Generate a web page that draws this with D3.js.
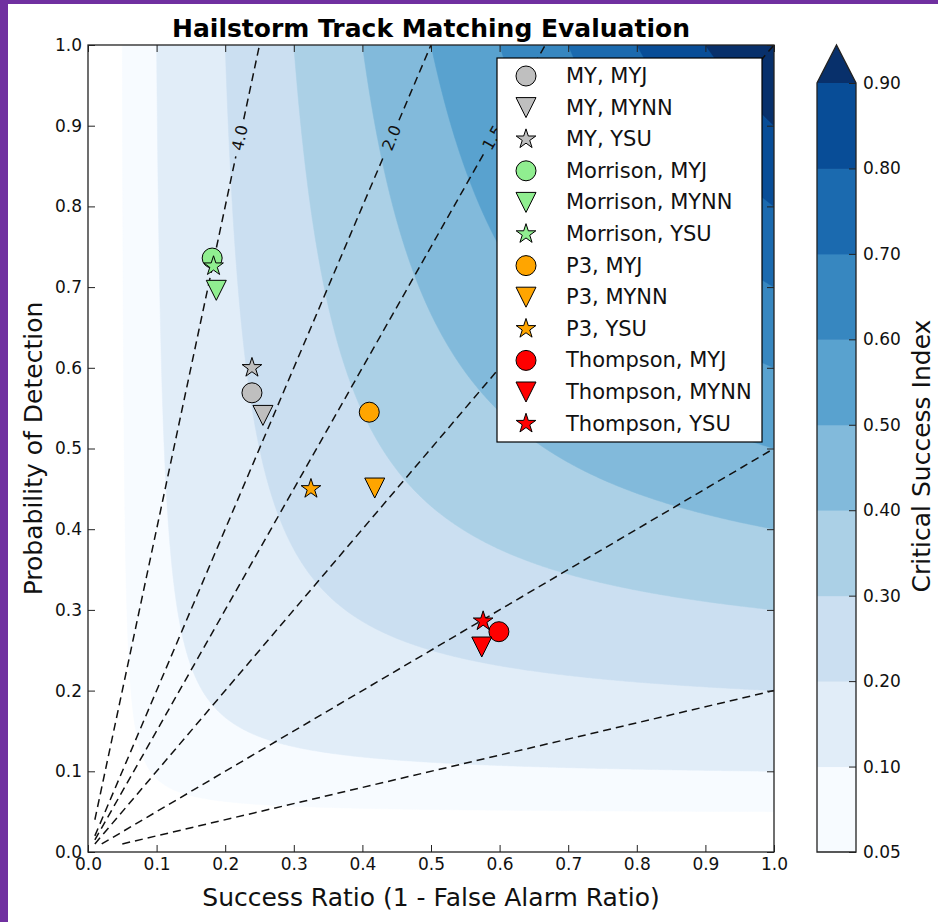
<!DOCTYPE html>
<html>
<head>
<meta charset="utf-8">
<script src="https://cdn.jsdelivr.net/npm/d3@7"></script>
<style>
  body { margin: 0; background: #fff; }
  svg { display: block; font-family: "DejaVu Sans", sans-serif; }
</style>
</head>
<body>
<svg id="chart" width="938" height="922"></svg>
<script>
// CSI contour levels (extend = max) and bias lines
const csiLevels = [0.05, 0.1, 0.2, 0.3, 0.4, 0.5, 0.6, 0.7, 0.8, 0.9];
const biasLevels = [0.2, 0.5, 1.0, 1.5, 2.0, 4.0];
const biasLabelled = [4.0, 2.0, 1.5];
const axisTicks = [0.0, 0.1, 0.2, 0.3, 0.4, 0.5, 0.6, 0.7, 0.8, 0.9, 1.0];

// experiments: microphysics x PBL scheme
const microphysics = ['MY', 'Morrison', 'P3', 'Thompson'];
const pblSchemes = ['MYJ', 'MYNN', 'YSU'];
const successRatio = [
  0.239, 0.255, 0.239,   // MY
  0.181, 0.187, 0.183,   // Morrison
  0.410, 0.418, 0.325,   // P3
  0.599, 0.574, 0.576    // Thompson
];
const probDetection = [
  0.569, 0.541, 0.600,
  0.736, 0.696, 0.726,
  0.545, 0.451, 0.450,
  0.273, 0.254, 0.286
];

const mpColors = { 'MY': '#bfbfbf', 'Morrison': '#90ee90', 'P3': '#ffa500', 'Thompson': '#ff0000' };
const blues = ['#f7fbff', '#deebf7', '#c6dbef', '#9ecae1', '#6baed6', '#4292c6', '#2171b5', '#08519c', '#08306b'];

const svg = d3.select('#chart');

// Purple frame of the slide
svg.append('rect').attr('x', 0).attr('y', 0).attr('width', 8).attr('height', 922).attr('fill', '#7030a0');
svg.append('rect').attr('x', 0).attr('y', 0).attr('width', 938).attr('height', 4).attr('fill', '#7030a0');

// Plot area
const plotL = 88, plotR = 774, plotT = 45, plotB = 852;
const x = d3.scaleLinear().domain([0, 1]).range([plotL, plotR]);
const y = d3.scaleLinear().domain([0, 1]).range([plotB, plotT]);

svg.append('defs').append('clipPath').attr('id', 'plotClip')
  .append('rect')
  .attr('x', plotL).attr('y', plotT)
  .attr('width', plotR - plotL).attr('height', plotB - plotT);

const plot = svg.append('g').attr('clip-path', 'url(#plotClip)');

// Colors of the filled contours (sampled from Blues)
const cmap = d3.piecewise(d3.interpolateRgb, blues);
const bandColors = csiLevels.map((d, i) => cmap(i / (csiLevels.length - 1)));

// CSI grid
const lo = 0.01;
const n = 400, m = 400;
const values = new Float64Array(n * m);
for (let j = 0; j < m; j++) {
  const pod = 1 - (j + 0.5) / m * (1 - lo);
  for (let i = 0; i < n; i++) {
    const sr = lo + (i + 0.5) / n * (1 - lo);
    values[i + j * n] = 1 / (1 / sr + 1 / pod - 1);
  }
}
const contours = d3.contours().size([n, m]).thresholds(csiLevels)(values);
const gridProj = d3.geoTransform({
  point: function(gx, gy) {
    this.stream.point(x(lo + gx / n * (1 - lo)), y(1 - gy / m * (1 - lo)));
  }
});
const gridPath = d3.geoPath(gridProj);

plot.selectAll('path.csi')
  .data(contours)
  .enter()
  .append('path')
  .attr('class', 'csi')
  .attr('d', gridPath)
  .attr('fill', (d, i) => bandColors[i])
  .attr('stroke', (d, i) => bandColors[i])
  .attr('stroke-width', 0.5);

// Bias lines (POD = bias * SR)
const labelPod = 0.885;
biasLevels.forEach(b => {
  const sr0 = Math.max(lo, lo / b);
  const sr1 = Math.min(1, 1 / b);
  const p0 = [x(sr0), y(b * sr0)];
  const p1 = [x(sr1), y(b * sr1)];
  const segs = [];
  if (biasLabelled.includes(b)) {
    const c = [x(labelPod / b), y(labelPod)];
    const dx = p1[0] - p0[0], dy = p1[1] - p0[1];
    const len = Math.hypot(dx, dy);
    const ux = dx / len, uy = dy / len;
    const gap = 19;
    segs.push([p0, [c[0] - ux * gap, c[1] - uy * gap]]);
    segs.push([[c[0] + ux * gap, c[1] + uy * gap], p1]);
    const ang = Math.atan2(dy, dx) * 180 / Math.PI;
    plot.append('text')
      .attr('transform', `translate(${c[0]},${c[1]}) rotate(${ang})`)
      .attr('text-anchor', 'middle')
      .attr('dominant-baseline', 'central')
      .style('font-size', '16px')
      .style('fill', '#111')
      .text(d3.format('.1f')(b));
  } else {
    segs.push([p0, p1]);
  }
  segs.forEach(s => {
    plot.append('line')
      .attr('x1', s[0][0]).attr('y1', s[0][1])
      .attr('x2', s[1][0]).attr('y2', s[1][1])
      .attr('stroke', '#111')
      .attr('stroke-width', 1.5)
      .attr('stroke-dasharray', '8,5');
  });
});

// Marker shapes
const triangleDown = {
  draw(context, size) {
    const h = Math.sqrt(size) / 2;
    context.moveTo(-h, -h);
    context.lineTo(h, -h);
    context.lineTo(0, h);
    context.closePath();
  }
};
const pblSymbols = {
  'MYJ': d3.symbol().type(d3.symbolCircle).size(Math.PI * 100),
  'MYNN': d3.symbol().type(triangleDown).size(400),
  'YSU': d3.symbol().type(d3.symbolStar).size(120)
};

const points = [];
microphysics.forEach((mp, mi) => {
  pblSchemes.forEach((pbl, pi) => {
    const k = mi * pblSchemes.length + pi;
    points.push({ name: `${mp}, ${pbl}`, mp, pbl, sr: successRatio[k], pod: probDetection[k] });
  });
});

svg.selectAll('path.pt')
  .data(points)
  .enter()
  .append('path')
  .attr('class', 'pt')
  .attr('transform', d => `translate(${x(d.sr)},${y(d.pod)})`)
  .attr('d', d => pblSymbols[d.pbl]())
  .attr('fill', d => mpColors[d.mp])
  .attr('stroke', '#000')
  .attr('stroke-width', 1);

// Axes (ticks inside, on all four sides)
const fmt1 = d3.format('.1f');
const xAxis = svg.append('g')
  .attr('transform', `translate(0,${plotB})`)
  .call(d3.axisBottom(x).tickValues(axisTicks).tickFormat(fmt1).tickSizeInner(-7).tickSizeOuter(0).tickPadding(18));
svg.append('g')
  .attr('transform', `translate(${plotL},0)`)
  .call(d3.axisLeft(y).tickValues(axisTicks).tickFormat(fmt1).tickSizeInner(-7).tickSizeOuter(0).tickPadding(6));
svg.append('g')
  .attr('transform', `translate(0,${plotT})`)
  .call(d3.axisTop(x).tickValues(axisTicks).tickFormat('').tickSizeInner(-7).tickSizeOuter(0));
svg.append('g')
  .attr('transform', `translate(${plotR},0)`)
  .call(d3.axisRight(y).tickValues(axisTicks).tickFormat('').tickSizeInner(-7).tickSizeOuter(0));

svg.selectAll('.domain').remove();
svg.selectAll('.tick line').attr('stroke', '#222').attr('stroke-width', 1);
svg.selectAll('.tick text').style('font-size', '17px').style('fill', '#111').style('font-family', '"DejaVu Sans", sans-serif');
xAxis.selectAll('.tick text').attr('dy', '0');

svg.append('rect')
  .attr('x', plotL).attr('y', plotT)
  .attr('width', plotR - plotL).attr('height', plotB - plotT)
  .attr('fill', 'none')
  .attr('stroke', '#222')
  .attr('stroke-width', 1.3);

// Titles
svg.append('text')
  .attr('x', (plotL + plotR) / 2)
  .attr('y', 37)
  .attr('text-anchor', 'middle')
  .style('font-size', '25px')
  .style('font-weight', 'bold')
  .style('fill', '#000')
  .text('Hailstorm Track Matching Evaluation');

svg.append('text')
  .attr('x', (plotL + plotR) / 2)
  .attr('y', 906)
  .attr('text-anchor', 'middle')
  .style('font-size', '25px')
  .style('fill', '#111')
  .text('Success Ratio (1 - False Alarm Ratio)');

svg.append('text')
  .attr('transform', `translate(33,${(plotT + plotB) / 2}) rotate(-90)`)
  .attr('text-anchor', 'middle')
  .attr('dominant-baseline', 'central')
  .style('font-size', '25px')
  .style('fill', '#111')
  .text('Probability of Detection');

// Legend
const legX = 497, legY = 58, legW = 265, legH = 384, rowH = 31.6;
const legend = svg.append('g');
legend.append('rect')
  .attr('x', legX).attr('y', legY)
  .attr('width', legW).attr('height', legH)
  .attr('fill', '#fff')
  .attr('stroke', '#000')
  .attr('stroke-width', 1.2);
const rows = legend.selectAll('g.row')
  .data(points)
  .enter()
  .append('g')
  .attr('class', 'row')
  .attr('transform', (d, i) => `translate(${legX + 29},${legY + 18 + i * rowH})`);
rows.append('path')
  .attr('d', d => pblSymbols[d.pbl]())
  .attr('fill', d => mpColors[d.mp])
  .attr('stroke', '#000')
  .attr('stroke-width', 1);
rows.append('text')
  .attr('x', 40)
  .attr('dominant-baseline', 'central')
  .style('font-size', '21px')
  .style('fill', '#111')
  .text(d => d.name);

// Colorbar
const cbL = 817, cbR = 856, cbTop = 83, cbBottom = 852, cbTip = 45;
const cbY = d3.scaleLinear().domain([0, csiLevels.length - 1]).range([cbBottom, cbTop]);
const cb = svg.append('g');
cb.selectAll('rect.band')
  .data(csiLevels.slice(0, -1))
  .enter()
  .append('rect')
  .attr('class', 'band')
  .attr('x', cbL)
  .attr('y', (d, i) => cbY(i + 1))
  .attr('width', cbR - cbL)
  .attr('height', (d, i) => cbY(i) - cbY(i + 1) + 0.5)
  .attr('fill', (d, i) => bandColors[i]);
cb.append('path')
  .attr('d', `M${cbL},${cbTop} L${(cbL + cbR) / 2},${cbTip} L${cbR},${cbTop} Z`)
  .attr('fill', bandColors[csiLevels.length - 1]);
cb.append('path')
  .attr('d', `M${cbL},${cbBottom} L${cbL},${cbTop} L${(cbL + cbR) / 2},${cbTip} L${cbR},${cbTop} L${cbR},${cbBottom} Z`)
  .attr('fill', 'none')
  .attr('stroke', '#222')
  .attr('stroke-width', 1.3);
const cbAxis = svg.append('g')
  .attr('transform', `translate(${cbR},0)`)
  .call(d3.axisRight(cbY)
    .tickValues(d3.range(csiLevels.length))
    .tickFormat(i => d3.format('.2f')(csiLevels[i]))
    .tickSizeInner(-7).tickSizeOuter(0).tickPadding(7));
cbAxis.select('.domain').remove();
cbAxis.selectAll('.tick line').attr('stroke', '#222');
cbAxis.selectAll('.tick text').style('font-size', '17px').style('fill', '#111').style('font-family', '"DejaVu Sans", sans-serif');

svg.append('text')
  .attr('transform', `translate(921,456) rotate(-90)`)
  .attr('text-anchor', 'middle')
  .attr('dominant-baseline', 'central')
  .style('font-size', '25px')
  .style('fill', '#111')
  .text('Critical Success Index');
</script>
</body>
</html>
